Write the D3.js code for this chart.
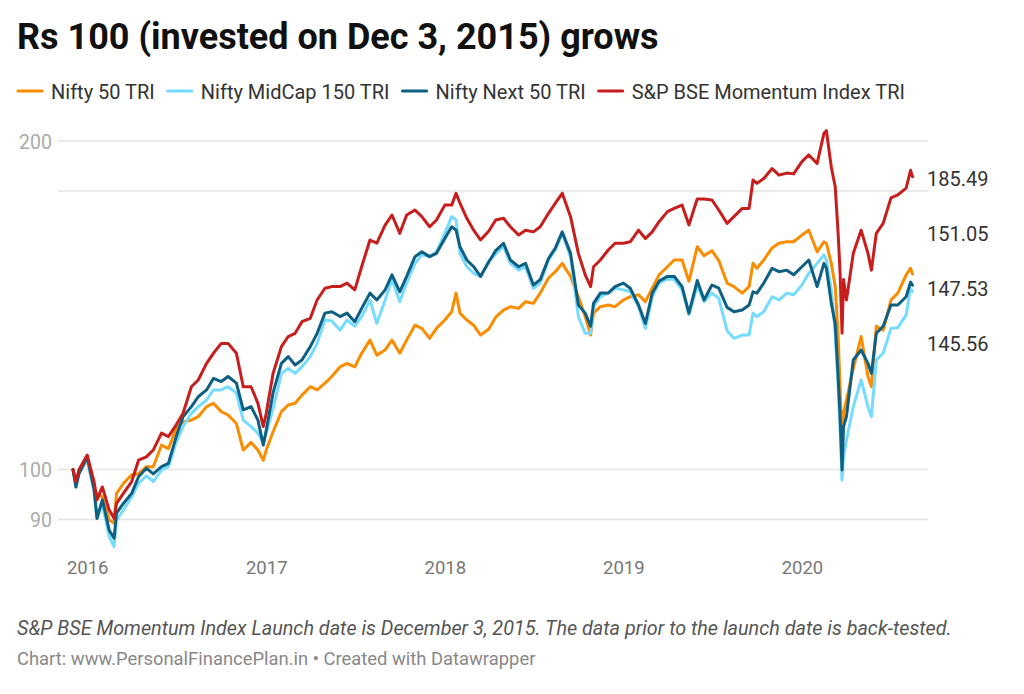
<!DOCTYPE html>
<html><head><meta charset="utf-8">
<script src="https://cdn.jsdelivr.net/npm/d3@7"></script>
<style>
body{margin:0;background:#fff;}
svg{display:block;font-family:Roboto,"Noto Sans",sans-serif;}
</style></head><body>
<svg id="c" width="1024" height="694"></svg>
<script>
const dates = [
"2015-12-03","2015-12-09","2015-12-15",
"2016-01-01","2016-01-15","2016-01-21","2016-02-01","2016-02-15","2016-02-25","2016-03-01","2016-03-15","2016-04-01","2016-04-15","2016-05-01","2016-05-15","2016-06-01","2016-06-15","2016-07-01","2016-07-15","2016-08-01","2016-08-15","2016-09-01","2016-09-15","2016-10-01","2016-10-15","2016-11-01","2016-11-15","2016-12-01","2016-12-15","2016-12-26",
"2017-01-01","2017-01-15","2017-02-01","2017-02-15","2017-03-01","2017-03-15","2017-04-01","2017-04-15","2017-05-01","2017-05-15","2017-06-01","2017-06-15","2017-07-01","2017-07-15","2017-08-01","2017-08-15","2017-09-01","2017-09-15","2017-10-01","2017-10-15","2017-11-01","2017-11-15","2017-12-01","2017-12-15",
"2018-01-01","2018-01-15","2018-01-24","2018-02-01","2018-02-15","2018-03-01","2018-03-15","2018-04-01","2018-04-15","2018-05-01","2018-05-15","2018-06-01","2018-06-15","2018-07-01","2018-07-15","2018-08-01","2018-08-15","2018-08-29","2018-09-15","2018-10-01","2018-10-15","2018-10-26","2018-11-01","2018-11-15","2018-12-01","2018-12-15",
"2019-01-01","2019-01-15","2019-02-01","2019-02-15","2019-03-01","2019-03-15","2019-04-01","2019-04-15","2019-05-01","2019-05-15","2019-06-01","2019-06-15","2019-07-01","2019-07-15","2019-08-01","2019-08-15","2019-09-01","2019-09-15","2019-09-23","2019-10-01","2019-10-15","2019-11-01","2019-11-15","2019-12-01","2019-12-15",
"2020-01-01","2020-01-15","2020-02-01","2020-02-15","2020-02-20","2020-03-01","2020-03-09","2020-03-15","2020-03-19","2020-03-23","2020-03-26","2020-04-01","2020-04-15","2020-05-01","2020-05-15","2020-05-22","2020-06-01","2020-06-15","2020-07-01","2020-07-15","2020-08-01","2020-08-10","2020-08-14"
];
const nifty50 = [
100,97.1,99.3,
102.0,96.0,95.1,94.4,89.9,89.3,95.1,97.1,98.9,99.1,100.6,100.6,105.3,104.5,109.1,110.6,111.0,111.8,114.2,115.0,113.0,112.2,110.2,104.2,105.9,104.2,102.0,
104.2,108.3,113.0,114.6,115.0,117.0,119.1,118.3,120.0,121.7,124.2,125.1,124.2,127.8,131.4,127.3,128.7,131.4,127.8,131.4,135.6,134.7,131.9,134.7,
137.1,139.5,145.1,139.1,137.1,135.6,132.8,134.5,137.9,140.0,141.0,140.5,142.5,142.0,145.1,149.8,151.8,154.5,150.3,144.0,138.1,132.8,139.1,141.0,141.5,141.0,
143.0,144.0,144.6,142.5,146.6,150.8,153.4,155.6,155.6,148.8,160.0,157.0,158.7,155.4,148.2,147.1,145.1,147.1,154.5,152.9,155.6,159.6,161.2,161.7,161.7,
164.0,165.7,158.3,161.7,161.2,154.5,147.1,132.4,119.1,106.4,112.6,115.8,123.8,132.4,121.7,119.1,135.3,134.2,143.0,145.1,150.8,152.9,151.05
];
const midcap150 = [
100,96.4,99.0,
102.3,95.5,90.2,93.1,86.8,85.0,89.9,91.8,94.4,97.1,98.7,97.5,99.9,100.6,105.9,109.5,112.6,114.2,115.8,118.3,118.3,119.1,117.5,111.0,109.5,108.0,105.8,
108.0,113.8,122.5,123.8,122.5,124.2,126.9,130.5,137.1,136.8,134.2,137.1,135.3,138.1,143.0,136.1,143.0,149.3,142.5,148.2,154.5,157.3,156.7,158.3,
164.6,170.5,169.3,157.8,153.4,151.3,150.3,155.2,157.6,160.2,154.5,152.3,153.4,146.6,148.2,155.6,159.0,164.6,156.7,138.1,133.3,133.3,141.0,144.0,145.1,146.6,
146.1,145.6,141.0,134.7,144.0,148.2,149.5,149.3,146.1,138.6,147.3,142.5,145.1,143.5,134.0,131.9,132.8,132.8,139.1,138.1,139.5,144.0,143.0,145.1,144.6,
147.6,151.3,154.5,157.3,155.6,146.0,133.3,119.1,108.7,97.8,102.7,106.4,114.2,120.8,114.2,111.8,126.0,127.8,134.7,134.9,138.6,146.5,145.56
];
const next50 = [
100,96.4,99.1,
102.7,96.0,90.2,93.8,88.0,86.5,91.2,93.1,95.1,98.5,100.3,99.1,100.6,101.3,107.2,111.8,114.2,116.6,118.3,121.2,120.4,121.7,120.0,113.4,114.2,111.0,105.3,
108.7,117.6,125.1,126.9,124.7,126.0,129.6,133.3,139.1,139.5,138.1,139.1,136.6,140.5,145.1,143.0,146.1,150.8,145.5,150.3,156.7,158.3,156.7,157.8,
162.8,166.9,165.7,160.0,155.6,153.4,150.3,155.0,158.7,161.2,155.6,153.4,154.5,147.6,149.3,156.1,159.6,165.1,157.8,141.5,139.1,135.3,142.0,145.1,145.1,147.1,
148.2,146.6,141.5,136.1,145.1,148.8,150.3,150.3,147.1,139.1,149.0,143.0,147.6,146.6,140.8,139.5,140.0,141.5,145.5,145.1,148.2,152.9,151.8,152.3,150.8,
153.4,155.6,147.1,154.5,152.9,142.0,136.1,121.7,111.8,99.9,109.5,111.8,126.0,128.7,125.1,122.5,133.3,135.3,141.5,141.5,144.0,148.5,147.53
];
const momentum = [
100,97.5,99.9,
103.1,97.5,93.8,96.4,91.8,90.2,93.1,95.1,97.5,102.0,102.7,104.2,108.0,107.2,109.9,112.6,119.1,120.8,125.1,127.8,130.5,130.5,127.8,119.1,119.1,115.0,109.5,
112.6,122.5,129.6,132.4,133.3,136.6,137.6,143.0,146.6,147.1,147.1,148.2,146.1,153.4,162.3,161.2,167.5,171.1,164.6,171.1,172.9,170.5,166.9,169.3,
174.7,174.7,179.1,175.4,169.9,165.7,162.3,165.4,169.3,169.9,166.9,164.0,165.7,165.1,166.9,171.7,175.4,179.1,170.5,157.8,150.8,147.1,153.4,155.6,158.9,161.2,
161.2,161.7,165.7,162.8,165.1,168.7,172.3,173.5,174.7,167.5,177.0,177.0,176.6,172.9,168.1,170.5,173.5,173.5,184.2,182.9,184.8,188.7,186.1,186.9,186.6,
191.5,194.2,190.8,203.3,204.4,189.3,181.6,164.6,151.3,133.3,149.3,143.0,157.8,165.7,157.8,152.3,164.6,168.1,177.4,178.5,181.1,188.0,185.49
];
const seriesNames = ["Nifty 50 TRI","Nifty MidCap 150 TRI","Nifty Next 50 TRI","S&P BSE Momentum Index TRI"];
const seriesColors = ["#fa8c00","#76dcff","#0e5f82","#c71e1d"];
const yGridValues = [90,100,180,200];
const yTickLabels = [90,100,200];
const xTickYears = [2016,2017,2018,2019,2020];
const titleText = "Rs 100 (invested on Dec 3, 2015) grows";
const noteText = "S&P BSE Momentum Index Launch date is December 3, 2015. The data prior to the launch date is back-tested.";
const sourceText = "Chart: www.PersonalFinancePlan.in \u2022 Created with Datawrapper";

const svg = d3.select("#c");
const parse = d3.utcParse("%Y-%m-%d");
const D = dates.map(parse);
const series = [nifty50, midcap150, next50, momentum];

const x = d3.scaleUtc().domain([D[0], D[D.length-1]]).range([73, 912.5]);
const y = d3.scaleLog().domain([90, 200]).range([519.5, 141]);

// title
svg.append("text").attr("x",17).attr("y",49).attr("font-size",36).attr("font-weight",700)
  .attr("fill","#111").text(titleText);

// legend
let lx = 17;
const lg = svg.append("g");
seriesNames.forEach((n,i)=>{
  lg.append("line").attr("x1",lx+1).attr("x2",lx+25).attr("y1",91).attr("y2",91)
    .attr("stroke",seriesColors[i]).attr("stroke-width",3.2).attr("stroke-linecap","round");
  const t = lg.append("text").attr("x",lx+34).attr("y",98.5).attr("font-size",20).attr("fill","#333").text(n);
  lx += 34 + t.node().getComputedTextLength() + 12;
});

// gridlines
svg.append("g").selectAll("line").data(yGridValues).join("line")
  .attr("x1",58).attr("x2",928).attr("y1",d=>y(d)).attr("y2",d=>y(d))
  .attr("stroke","#e4e4e4").attr("stroke-width",1.5);

// y axis labels
const gy = svg.append("g").attr("transform","translate(52,0)")
  .call(d3.axisLeft(y).tickValues(yTickLabels).tickFormat(d3.format("d")).tickSize(0).tickPadding(0));
gy.select(".domain").remove();
gy.selectAll("text").attr("fill","#aaaaaa").attr("font-size",19.5).attr("font-family","Roboto").attr("dy","0.36em");

// x axis labels
const gx = svg.append("g").attr("transform","translate(0,574)")
  .call(d3.axisBottom(x).tickValues(xTickYears.map(yr=>new Date(Date.UTC(yr,0,1)))).tickFormat(d3.utcFormat("%Y")).tickSize(0).tickPadding(0));
gx.select(".domain").remove();
gx.selectAll("text").attr("y",0).attr("dy",0).attr("fill","#777").attr("font-size",18.5).attr("font-family","Roboto");

// lines
const line = d3.line().x((d,i)=>x(D[i])).y(d=>y(d));
svg.append("g").selectAll("path").data(series).join("path")
  .attr("d",line).attr("fill","none").attr("stroke",(d,i)=>seriesColors[i])
  .attr("stroke-width",3).attr("stroke-linejoin","round").attr("stroke-linecap","round");

// end labels with collision avoidance
const ends = series.map((s,i)=>({i, v:s[s.length-1], y:y(s[s.length-1])})).sort((a,b)=>a.y-b.y);
const gap = 55;
let clusters = ends.map(e=>({items:[e], center:e.y}));
let changed = true;
while(changed){
  changed = false;
  for(let k=0;k<clusters.length-1;k++){
    const a=clusters[k], b=clusters[k+1];
    const aBottom = a.center + (a.items.length-1)/2*gap;
    const bTop = b.center - (b.items.length-1)/2*gap;
    if(bTop - aBottom < gap){
      const items = a.items.concat(b.items);
      clusters.splice(k,2,{items, center:d3.mean(items,e=>e.y)});
      changed = true; break;
    }
  }
}
clusters.forEach(c=>c.items.forEach((e,j)=>{ e.ly = c.center + (j-(c.items.length-1)/2)*gap; }));
svg.append("g").selectAll("text").data(ends).join("text")
  .attr("x",927).attr("y",d=>d.ly+4).attr("dy","0.36em")
  .attr("font-size",20).attr("fill","#333").text(d=>d3.format(".2f")(d.v));

// footer
svg.append("text").attr("x",17).attr("y",635).attr("font-size",19.8).attr("font-style","italic")
  .attr("fill","#555").text(noteText);
svg.append("text").attr("x",17).attr("y",664.5).attr("font-size",18.4)
  .attr("fill","#888").text(sourceText);
</script>
</body></html>
